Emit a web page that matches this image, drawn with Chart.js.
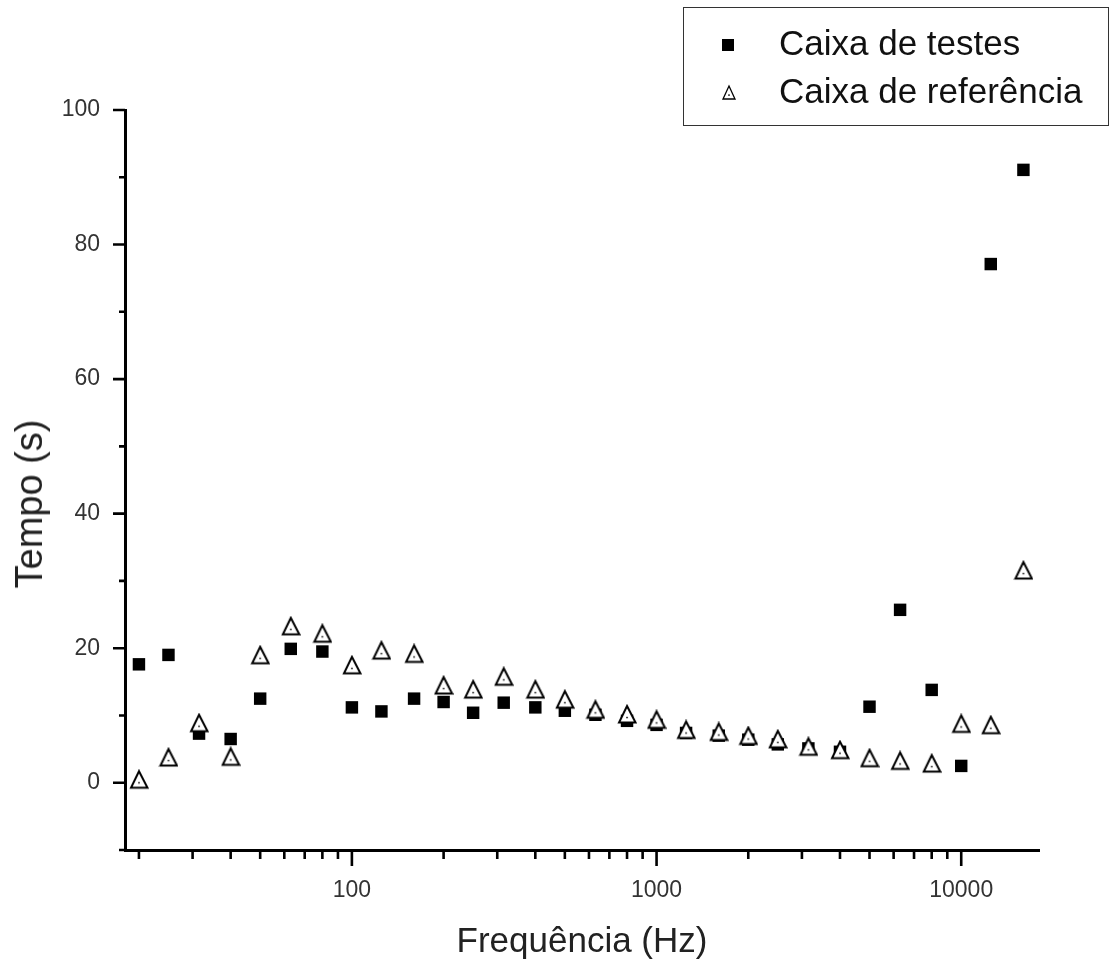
<!DOCTYPE html>
<html lang="pt">
<head>
<meta charset="utf-8">
<script src="https://cdn.jsdelivr.net/npm/chart.js@4/dist/chart.umd.min.js"></script>
<style>
    html, body { margin: 0; padding: 0; background: #fff; }
    #wrap { position: relative; width: 1111px; height: 971px; font-family: "Liberation Sans", Arial, sans-serif; }
    #wrap canvas { position: absolute; left: 0; top: 0; }
    .lg { position: absolute; left: 683px; top: 7px; width: 426px; height: 119px; box-sizing: border-box; border: 1.5px solid #333; }
    .lg span { position: absolute; left: 95px; font-size: 35px; line-height: 35px; color: #111; white-space: nowrap; }
    .lg .sq { position: absolute; left: 38px; top: 31px; width: 12px; height: 12px; background: #000; }
    .lg canvas { position: absolute; }
    .ytitle { position: absolute; left: 29px; top: 504px; font-size: 38px; line-height: 38px; color: #222; white-space: nowrap;
              transform: translate(-50%, -50%) rotate(-90deg); }
</style>
</head>
<body>
<div id="wrap">
    <canvas id="tmChart" width="1111" height="971"></canvas>
    <div class="ytitle">Tempo (s)</div>
    <div class="lg" id="lg">
        <div class="sq"></div>
        <span style="top:17px">Caixa de testes</span>
        <span style="top:65px">Caixa de referência</span>
    </div>
</div>
<script>
// Tempo x Frequência: caixa de testes (■) と caixa de referência (△) の散布図、x は対数軸。
var freq = [20, 25, 31.5, 40, 50, 63, 80, 100, 125, 160, 200, 250, 315, 400, 500, 630, 800,
            1000, 1250, 1600, 2000, 2500, 3150, 4000, 5000, 6300, 8000, 10000, 12500, 16000];
var testes = [17.6, 19.0, 7.3, 6.5, 12.5, 19.9, 19.5, 11.2, 10.6, 12.5, 12.0, 10.4, 11.9, 11.2, 10.7, 10.1, 9.2,
              8.6, 7.4, 7.0, 6.4, 5.7, 5.1, 4.6, 11.3, 25.7, 13.8, 2.5, 77.1, 91.1];
var referencia = [0.0, 3.3, 8.4, 3.4, 18.5, 22.8, 21.7, 17.0, 19.2, 18.7, 14.0, 13.4, 15.3, 13.4, 11.9, 10.4, 9.7,
                  8.9, 7.4, 7.1, 6.5, 6.0, 4.9, 4.4, 3.2, 2.8, 2.4, 8.3, 8.1, 31.1];
var xTicks = [20, 30, 40, 50, 60, 70, 80, 90, 100, 200, 300, 400, 500, 600, 700, 800, 900,
              1000, 2000, 3000, 4000, 5000, 6000, 7000, 8000, 9000, 10000];
var xLabels = [100, 1000, 10000];

(function () {
    "use strict";

    // △ マーカー: データ点は内側の小さな点(頂点から高さの約70%)なので、そこをキャンバス中心に置く。
    function triangleMark(w, h, lw) {
        var pad = 2;
        var dotY = pad + 0.7 * h;
        var c = document.createElement("canvas");
        c.width = w + pad * 2;
        c.height = Math.round(dotY * 2);
        var g = c.getContext("2d");
        g.beginPath();
        g.moveTo(c.width / 2, pad);
        g.lineTo(pad + w, pad + h);
        g.lineTo(pad, pad + h);
        g.closePath();
        g.fillStyle = "#fff";
        g.fill();
        g.lineWidth = lw;
        g.strokeStyle = "#000";
        g.stroke();
        g.fillStyle = "#000";
        g.fillRect(c.width / 2 - 0.75, dotY - 0.75, 1.5, 1.5);
        return c;
    }

    // 凡例の△
    var lgTri = triangleMark(12, 13, 1.3);
    lgTri.style.left = (723 - 684.5 - 2) + "px";
    lgTri.style.top = (86 - 8.5 - 2) + "px";
    document.getElementById("lg").appendChild(lgTri);

    function pts(ys) {
        return freq.map(function (f, i) { return { x: f, y: ys[i] }; });
    }

    // 目盛り線(外向き): 主目盛りは長く、副目盛りは短く。
    var tickMarks = {
        id: "tickMarks",
        afterDraw: function (chart) {
            var ctx = chart.ctx, area = chart.chartArea;
            var xs = chart.scales.x, ys = chart.scales.y;
            ctx.save();
            ctx.strokeStyle = "#000";
            ctx.lineWidth = 2.6;
            ctx.beginPath();
            ys.ticks.forEach(function (t) {
                var py = ys.getPixelForValue(t.value);
                var len = t.value % 20 === 0 ? 12 : 6;
                ctx.moveTo(area.left - len, py);
                ctx.lineTo(area.left, py);
            });
            xs.ticks.forEach(function (t) {
                var px = xs.getPixelForValue(t.value);
                var len = xLabels.indexOf(t.value) >= 0 ? 16 : 9;
                ctx.moveTo(px, area.bottom);
                ctx.lineTo(px, area.bottom + len);
            });
            ctx.stroke();
            ctx.restore();
        }
    };

    var font = "'Liberation Sans', Arial, sans-serif";

    new Chart(document.getElementById("tmChart").getContext("2d"), {
        type: "scatter",
        data: {
            datasets: [
                {
                    label: "Caixa de testes",
                    data: pts(testes),
                    pointStyle: "rect",
                    pointRadius: 8.8,
                    pointHoverRadius: 8.8,
                    backgroundColor: "#000",
                    borderColor: "#000",
                    borderWidth: 0,
                    order: 1,
                },
                {
                    label: "Caixa de referência",
                    data: pts(referencia),
                    pointStyle: triangleMark(16.5, 16.5, 2),
                    pointRadius: 9,
                    order: 0,
                },
            ],
        },
        options: {
            responsive: false,
            animation: false,
            layout: { padding: { left: 0, top: 110, right: 72, bottom: 0 } },
            plugins: { legend: { display: false }, tooltip: { enabled: false } },
            scales: {
                x: {
                    type: "logarithmic",
                    min: 18,
                    max: 18000,
                    afterBuildTicks: function (s) {
                        s.ticks = xTicks.map(function (v) { return { value: v }; });
                    },
                    afterFit: function (s) { s.height = 121; },
                    grid: { display: false, drawTicks: false },
                    border: { display: true, color: "#000", width: 3 },
                    ticks: {
                        autoSkip: false,
                        maxRotation: 0,
                        padding: 27,
                        color: "#333",
                        font: { family: font, size: 23 },
                        callback: function (v) { return xLabels.indexOf(v) >= 0 ? String(v) : ""; },
                    },
                    title: {
                        display: true,
                        text: "Frequência (Hz)",
                        color: "#222",
                        font: { family: font, size: 35 },
                        padding: { top: 0, bottom: 8 },
                    },
                },
                y: {
                    min: -10,
                    max: 100,
                    afterFit: function (s) { s.width = 125; },
                    grid: { display: false, drawTicks: false },
                    border: { display: true, color: "#000", width: 3 },
                    ticks: {
                        stepSize: 10,
                        padding: 25,
                        color: "#333",
                        font: { family: font, size: 23 },
                        callback: function (v) { return v % 20 === 0 ? String(v) : ""; },
                    },
                },
            },
        },
        plugins: [tickMarks],
    });
})();
</script>
</body>
</html>
